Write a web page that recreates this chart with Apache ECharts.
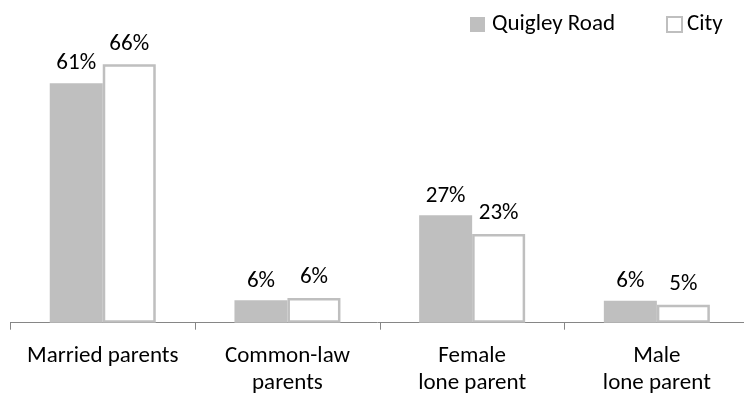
<!DOCTYPE html>
<html>
<head>
<meta charset="utf-8">
<script src="https://cdn.jsdelivr.net/npm/echarts@6/dist/echarts.min.js"></script>
<style>
html,body{margin:0;padding:0;background:#fff;}
#chart{width:744px;height:395px;}
</style>
</head>
<body>
<div id="chart"></div>
<script>
var categories = ['Married parents', 'Common-law\nparents', 'Female\nlone parent', 'Male\nlone parent'];
var seriesNames = ['Quigley Road', 'City'];
var quigleyRoad = [61.1, 5.7, 27.4, 5.6];
var city = [65.9, 6.3, 22.6, 4.6];

var FONT = 'Carlito, Calibri, Lato, sans-serif';
var FS = 23;
var chart = echarts.init(document.getElementById('chart'), null, {renderer: 'canvas'});

function pctLabel(p) { return Math.round(p.value) + '%'; }

var option = {
  animation: false,
  backgroundColor: '#ffffff',
  textStyle: {fontFamily: FONT},
  legend: [
    {
      left: 465, top: 8,
      itemWidth: 15, itemHeight: 15,
      icon: 'rect',
      data: [{name: seriesNames[0], itemStyle: {color: '#BFBFBF', borderWidth: 0}}],
      textStyle: {fontFamily: FONT, fontSize: FS, color: '#000', padding: [0, 0, 0, 2]}
    },
    {
      left: 661, top: 8,
      itemWidth: 15, itemHeight: 15,
      icon: 'rect',
      data: [{name: seriesNames[1], itemStyle: {color: '#ffffff', borderColor: '#BFBFBF', borderWidth: 2}}],
      textStyle: {fontFamily: FONT, fontSize: FS, color: '#000', padding: [0, 0, 0, 0]}
    }
  ],
  grid: {left: 10.4, top: 9.1, width: 738.8, bottom: 72.3, containLabel: false, outerBoundsMode: 'none'},
  xAxis: {
    type: 'category',
    data: categories,
    axisLine: {lineStyle: {color: '#868686', width: 1}},
    axisTick: {show: true, length: 7, lineStyle: {color: '#868686'}},
    axisLabel: {fontFamily: FONT, fontSize: FS, color: '#000', margin: 20, lineHeight: 27, interval: 0}
  },
  yAxis: {
    type: 'value', min: 0, max: 80,
    show: false,
    splitLine: {show: false}
  },
  series: [
    {
      name: seriesNames[0],
      type: 'bar',
      data: quigleyRoad,
      barWidth: 53,
      barGap: '0%',
      itemStyle: {color: '#BFBFBF'},
      label: {show: true, position: 'top', distance: 8, formatter: pctLabel,
              fontFamily: FONT, fontSize: FS, color: '#000'}
    },
    {
      name: seriesNames[1],
      type: 'bar',
      data: city,
      barWidth: 53,
      barGap: '0%',
      itemStyle: {color: '#ffffff', borderColor: '#BFBFBF', borderWidth: 2.5},
      label: {show: true, position: 'top', distance: 9, formatter: pctLabel,
              fontFamily: FONT, fontSize: FS, color: '#000'}
    }
  ]
};
chart.setOption(option);
</script>
</body>
</html>
